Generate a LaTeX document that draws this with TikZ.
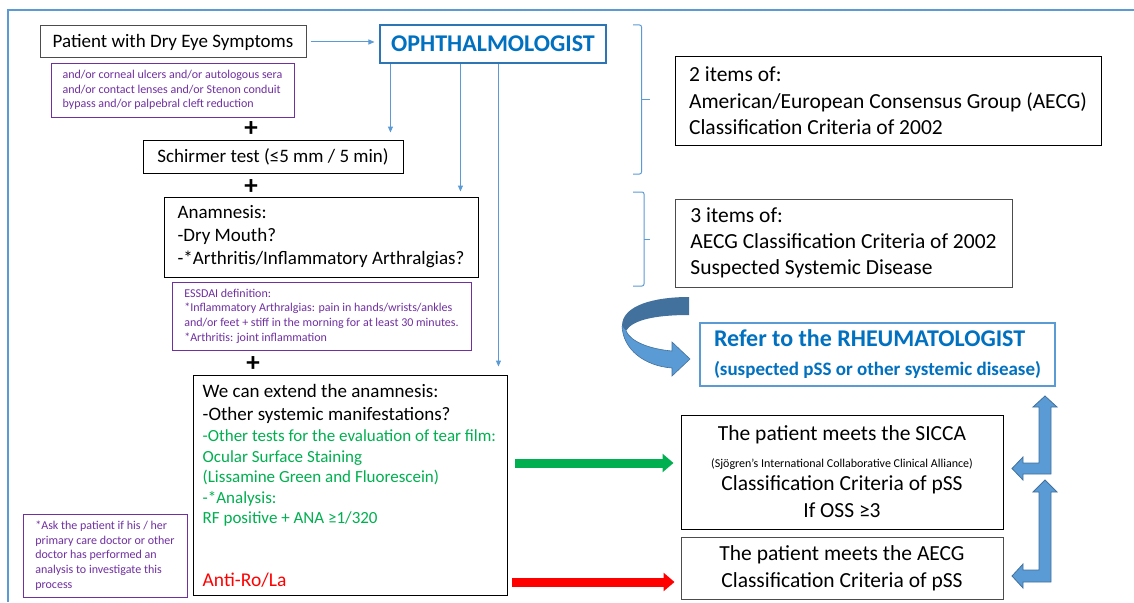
\documentclass[tikz,border=0pt]{standalone}
\usepackage{fontspec}
\setmainfont{Carlito}
\usetikzlibrary{arrows.meta,calc}
\definecolor{lblue}{HTML}{5B9BD5}
\definecolor{dblue}{HTML}{0070C0}
\definecolor{obord}{HTML}{2E75B6}
\definecolor{purp}{HTML}{7030A0}
\definecolor{grn}{HTML}{00B050}
\definecolor{edgeblue}{HTML}{41719C}
\newcommand\myfs[2]{\fontsize{#1}{#2}\selectfont}
\begin{document}
\begin{tikzpicture}[x=1pt,y=-1pt,
  box/.style={draw=black, line width=1pt, inner sep=0pt, align=left},
  graybox/.style={box, draw=black!70},
  purpbox/.style={draw=purp, line width=0.9pt, text=purp, inner sep=0pt, align=left, font=\myfs{12}{14.7}},
  conn/.style={draw=lblue, line width=1pt, -{Triangle[length=6pt,width=5pt]}},
  plussign/.style={font=\bfseries\myfs{27}{27}, inner sep=0pt},
  fatarrow/.style={line width=9pt, -{Triangle[length=11pt,width=18pt]}},
  bent/.style={fill=lblue, draw=edgeblue, line width=0.8pt, line join=miter},
]
\useasboundingbox (0,0) rectangle (1134,602);
\fill[white] (0,0) rectangle (1134,602);
% outer frame
\draw[lblue, line width=1.5pt] (1134,10) -- (8,10) -- (8,602);

% left column
\node[graybox, minimum width=266pt, minimum height=32pt, font=\myfs{19}{23}] (patient) at (173,42) {Patient with Dry Eye Symptoms};
\node[draw=obord, line width=1.1pt, inner sep=0pt, minimum width=226pt, minimum height=38pt, text=dblue, font=\bfseries\myfs{24}{28}] (ophth) at (493,44) {OPHTHALMOLOGIST};
\node[purpbox, minimum width=243pt, minimum height=54pt] (pnote1) at (172.5,90) {and/or corneal ulcers and/or autologous sera\\and/or contact lenses and/or Stenon conduit\\bypass and/or palpebral cleft reduction};
\node[plussign] (plus1) at (251,129) {+};
\node[box, minimum width=260pt, minimum height=33pt, font=\myfs{19}{23}] (schirmer) at (273,156.5) {Schirmer test (≤5 mm / 5 min)};
\node[plussign] (plus2) at (251,187) {+};
\node[box, minimum width=314pt, minimum height=80pt, font=\myfs{19}{23}] (anam) at (321,237) {Anamnesis:\\-Dry Mouth?\\-*Arthritis/Inflammatory Arthralgias?};
\node[purpbox, minimum width=299pt, minimum height=68pt] (essdai) at (321.5,316) {ESSDAI definition:\\*Inflammatory Arthralgias: pain in hands/wrists/ankles\\and/or feet + stiff in the morning for at least 30 minutes.\\*Arthritis: joint inflammation};
\node[plussign] (plus3) at (253,364) {+};
\node[box, minimum width=314pt, minimum height=220pt] (ext) at (350,485) {};
\node[anchor=west, inner sep=0pt, align=left, font=\myfs{19}{23}] (ext1) at (202.5,403.5) {We can extend the anamnesis:\\-Other systemic manifestations?};
\node[anchor=west, inner sep=0pt, align=left, text=grn, font=\myfs{17}{20.5}] (ext2) at (202.5,478) {-Other tests for the evaluation of tear film:\\Ocular Surface Staining\\(Lissamine Green and Fluorescein)\\-*Analysis:\\RF positive + ANA ≥1/320};
\node[anchor=west, inner sep=0pt, text=red, font=\myfs{19.5}{23}] (ext3) at (202.5,580) {Anti-Ro/La};
\node[purpbox, minimum width=164pt, minimum height=83pt] (pnote2) at (105,555.5) {*Ask the patient if his / her\\primary care doctor or other\\doctor has performed an\\analysis to investigate this\\process};

% connectors from the ophthalmologist
\draw[conn, shorten <=4pt, shorten >=5pt] (patient.east) -- (patient.east -| ophth.west);
\draw[conn, shorten >=7pt] ([xshift=11pt]ophth.south west) -- ([xshift=11pt]ophth.south west |- schirmer.north);
\draw[conn, shorten >=5pt] ([xshift=81pt]ophth.south west) -- ([xshift=81pt]ophth.south west |- anam.north);
\draw[conn, shorten >=8pt] ([xshift=119pt]ophth.south west) -- ([xshift=119pt]ophth.south west |- ext.north);

% brackets
\draw[lblue, line width=1pt, rounded corners=2pt] (633,25) -- (641.5,25) -- (641.5,174) -- (633,174);
\draw[lblue, line width=1pt] (641.5,99) -- (650,99);
\draw[lblue, line width=1pt, rounded corners=2pt] (633,192) -- (644,192) -- (644,286) -- (633,286);
\draw[lblue, line width=1pt] (644,239) -- (650,239);

% right column
\node[box, minimum width=426pt, minimum height=88pt, font=\myfs{21.5}{26.5}] (items2) at (888,101) {2 items of:\\American/European Consensus Group (AECG)\\Classification Criteria of 2002};
\node[graybox, minimum width=337pt, minimum height=88pt, font=\myfs{21.5}{26}] (items3) at (843.5,243) {3 items of:\\AECG Classification Criteria of 2002\\Suspected Systemic Disease};
\node[draw=lblue, line width=1.1pt, inner sep=0pt, align=left, minimum width=355pt, minimum height=63pt, text=dblue, font=\bfseries\myfs{24}{29}] (rheum) at (877.5,354.5) {Refer to the RHEUMATOLOGIST\\{\myfs{19}{23}(suspected pSS or other systemic disease)}};
\node[box, align=center, minimum width=322pt, minimum height=114pt, font=\myfs{21.5}{26}] (sicca) at (842,472) {The patient meets the SICCA\\[1pt]{\myfs{12}{14}(Sjögren's International Collaborative Clinical Alliance)}\\[-3pt]Classification Criteria of pSS\\[1pt]If OSS ≥3};
\node[graybox, align=center, minimum width=322pt, minimum height=62pt, font=\myfs{21.5}{27}] (aecg) at (842,568) {The patient meets the AECG\\Classification Criteria of pSS};

% curved arrow
\fill[edgeblue] (689,297) .. controls (655,297) and (622,305) .. (622,326) .. controls (624,330) and (625,331) .. (626,331) .. controls (632,320) and (655,315) .. (689,315) -- cycle;
\fill[lblue] (622,326) .. controls (623,350) and (645,366) .. (672,368) -- (672,376) -- (690,359) -- (672,342) -- (672,351) .. controls (650,349) and (631,342) .. (626,331) -- cycle;
\draw[edgeblue, line width=0.6pt] (622,326) .. controls (623,350) and (645,366) .. (672,368) -- (672,376) -- (690,359) -- (672,342) -- (672,351) .. controls (650,349) and (631,342) .. (626,331);

% thick coloured arrows
\coordinate (g1) at (515,463);
\coordinate (r1) at (512,582);
\draw[fatarrow, grn, shorten >=7pt] (g1) -- (g1 -| sicca.west);
\draw[fatarrow, red, shorten >=6pt] (r1) -- (r1 -| aecg.west);

% bent arrows
\draw[bent] (1045,396) -- (1057,407) -- (1051,407) -- (1051,474) -- (1023,474) -- (1023,480) -- (1012,468.5) -- (1023,457) -- (1023,463) -- (1039,463) -- (1039,407) -- (1033,407) -- cycle;
\draw[bent] (1045,480) -- (1057,492) -- (1051,492) -- (1051,582) -- (1023,582) -- (1023,588) -- (1012,576) -- (1023,564) -- (1023,570) -- (1039,570) -- (1039,492) -- (1033,492) -- cycle;
\end{tikzpicture}
\end{document}
